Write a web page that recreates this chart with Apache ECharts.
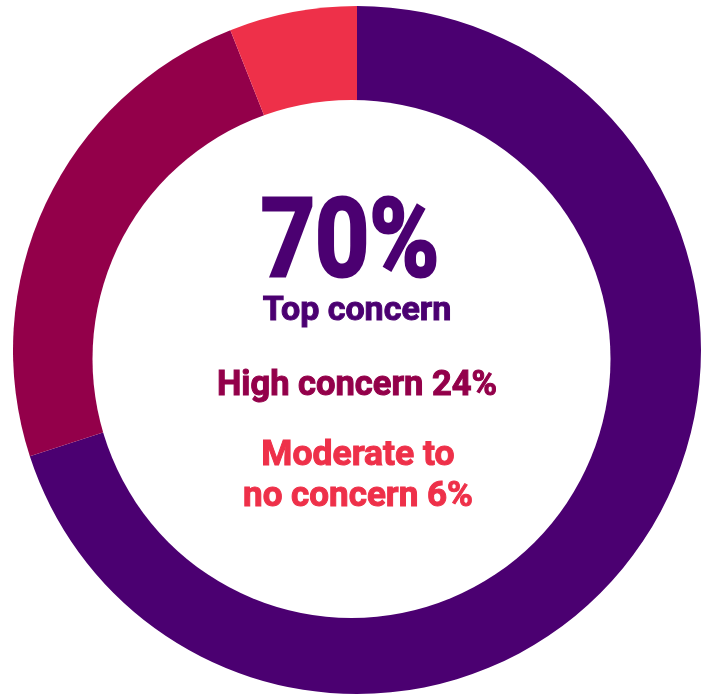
<!DOCTYPE html>
<html>
<head>
<meta charset="utf-8">
<script src="https://cdn.jsdelivr.net/npm/echarts@6/dist/echarts.min.js"></script>
<style>
html,body{margin:0;padding:0;background:#fff;}
#chart{width:708px;height:694px;}
</style>
</head>
<body>
<div id="chart"></div>
<script>
var categories = ['Top concern', 'High concern', 'Moderate to no concern'];
var values = [70, 24, 6];
var colors = ['#4B0071', '#93004A', '#EE3049'];

var chart = echarts.init(document.getElementById('chart'), null, {renderer: 'canvas'});
var font = 'Roboto, "Liberation Sans", sans-serif';
function txt(text, x, y, size, color, sx, sw) {
  return {
    type: 'text', z: 101, x: x, y: y, scaleX: sx || 1, originX: 0, originY: 0, silent: true,
    style: {text: text, font: 'bold ' + size + 'px ' + font, fill: color, stroke: color, lineWidth: sw || 1,
      align: 'center', verticalAlign: 'middle'}
  };
}
chart.setOption({
  animation: false,
  backgroundColor: '#ffffff',
  series: [{
    type: 'pie',
    center: [357, 350],
    radius: [0, 344],
    startAngle: 90,
    clockwise: true,
    silent: true,
    label: {show: false},
    labelLine: {show: false},
    itemStyle: {borderWidth: 0},
    data: categories.map(function (c, i) {
      return {name: c, value: values[i], itemStyle: {color: colors[i]}};
    })
  }],
  graphic: {
    elements: [
      {type: 'circle', z: 100, silent: true, shape: {cx: 351.5, cy: 359, r: 259}, style: {fill: '#ffffff'}},
      txt(values[0] + '%', 350, 248, 110, colors[0], 0.86, 3),
      txt('Top concern', 357, 311, 34, colors[0], 1, 1),
      txt('High concern ' + values[1] + '%', 357, 386, 34.5, colors[1], 1, 1),
      txt('Moderate to', 358, 456, 35.5, colors[2], 1, 1),
      txt('no concern ' + values[2] + '%', 358, 497, 35, colors[2], 1, 1)
    ]
  }
});
</script>
</body>
</html>
